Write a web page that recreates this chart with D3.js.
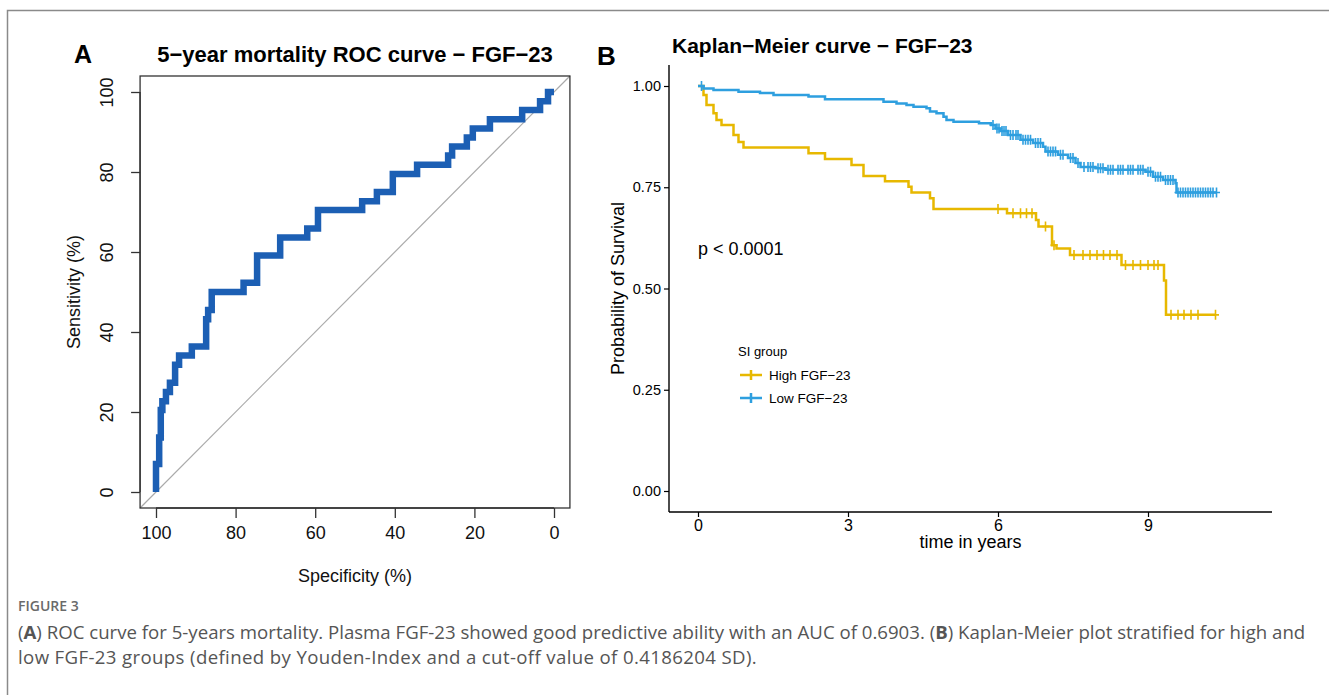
<!DOCTYPE html>
<html>
<head>
<meta charset="utf-8">
<script src="https://cdn.jsdelivr.net/npm/d3@7"></script>
<style>
  body { margin: 0; background: #fff; }
  svg { display: block; font-family: "Liberation Sans", Arial, sans-serif; }
</style>
</head>
<body>
<div id="chart"></div>
<script>
// ---- panel A: ROC curve (specificity %, sensitivity %) ----
const rocSpec = [100, 100, 99.2, 98.8, 98.4, 97.5, 96.5, 95.2, 94.2, 91, 87.4, 86.9, 86, 78, 74.6,
  68.8, 62, 59.3, 48.2, 44.5, 40.5, 34.4, 26.6, 25.6, 21.9, 20.4, 16.1, 8, 3.5, 1.5, 0];
const rocSens = [0, 7, 13.6, 20.5, 22.7, 25, 27.3, 31.8, 34.1, 36.4, 43.2, 45.5, 50, 52.3, 59.1,
  63.6, 65.9, 70.5, 72.7, 75, 79.5, 81.8, 84.1, 86.4, 88.6, 90.9, 93.2, 95.5, 97.7, 100, 100];
const rocXTicks = [100, 80, 60, 40, 20, 0];
const rocYTicks = [0, 20, 40, 60, 80, 100];

// ---- panel B: Kaplan-Meier ----
const kmHighTime = [0, 0.11, 0.17, 0.31, 0.37, 0.47, 0.71, 0.81, 0.91, 2.21, 2.54, 3.07, 3.31, 3.74,
  4.21, 4.27, 4.64, 4.71, 6.18, 6.76, 6.81, 7.08, 7.17, 7.44, 8.47, 9.32, 9.36, 10.35];
const kmHighSurv = [1, 0.978, 0.953, 0.933, 0.916, 0.904, 0.879, 0.862, 0.848, 0.834, 0.820, 0.805, 0.778, 0.765,
  0.751, 0.737, 0.723, 0.696, 0.686, 0.669, 0.653, 0.607, 0.599, 0.583, 0.558, 0.52, 0.435, 0.435];
const kmHighCensor = [6.0, 6.3, 6.45, 6.57, 6.68, 6.95, 7.12, 7.52, 7.7, 7.84, 7.98, 8.11, 8.24, 8.38,
  8.55, 8.7, 8.85, 9.0, 9.12, 9.2, 9.46, 9.6, 9.72, 9.86, 10.0, 10.35];

const kmLowTime = [0, 0.11, 0.31, 0.81, 1.24, 1.51, 2.21, 2.54, 3.71, 3.97, 4.17, 4.31, 4.57, 4.64, 4.77,
  4.91, 4.97, 5.11, 5.62, 5.86, 5.95, 6.05, 6.2, 6.45, 6.7, 6.9, 6.95, 7.2, 7.4, 7.55, 7.65, 7.95,
  8.15, 8.95, 9.1, 9.3, 9.55, 9.57, 10.37];
const kmLowSurv = [1, 0.994, 0.990, 0.986, 0.983, 0.978, 0.974, 0.967, 0.961, 0.957, 0.953, 0.949, 0.945, 0.937, 0.933,
  0.924, 0.916, 0.912, 0.908, 0.904, 0.895, 0.889, 0.879, 0.867, 0.859, 0.850, 0.838, 0.830, 0.822, 0.810, 0.800, 0.797,
  0.793, 0.788, 0.776, 0.768, 0.760, 0.737, 0.737];
const kmLowCensor = [0.07, 5.9, 5.98, 6.02, 6.08, 6.12, 6.16, 6.25, 6.3, 6.36, 6.4, 6.5, 6.55, 6.6, 6.65,
  6.75, 6.8, 6.85, 7.0, 7.05, 7.1, 7.15, 7.25, 7.3, 7.45, 7.5, 7.6, 7.72, 7.8, 7.85, 7.9, 8.0, 8.05,
  8.1, 8.2, 8.25, 8.3, 8.4, 8.45, 8.5, 8.6, 8.65, 8.7, 8.8, 8.85, 8.9, 9.0, 9.05, 9.15, 9.2, 9.25,
  9.35, 9.4, 9.45, 9.5, 9.6, 9.65, 9.7, 9.75, 9.8, 9.85, 9.9, 9.95, 10.0, 10.05, 10.1, 10.15, 10.2,
  10.25, 10.3, 10.37];
const kmXTicks = [0, 3, 6, 9];
const kmYTicks = [0, 0.25, 0.5, 0.75, 1];
const groupNames = ["High FGF\u221223", "Low FGF\u221223"];
const groupColors = ["#E7B800", "#2E9FDF"];

const FONT = "'Liberation Sans', Arial, sans-serif";

const svg = d3.select("#chart").append("svg")
  .attr("width", 1329)
  .attr("height", 695);

// card border (top + left)
svg.append("path")
  .attr("d", "M7.5,695 V10.5 H1329")
  .attr("fill", "none")
  .attr("stroke", "#8a8a8a")
  .attr("stroke-width", 1.5);

// ================= Panel A =================
const ax = d3.scaleLinear().domain([100, 0]).range([156, 554]);
const ay = d3.scaleLinear().domain([0, 100]).range([492, 92]);
const boxX0 = ax(104), boxX1 = ax(-4), boxY0 = ay(104), boxY1 = ay(-4);

const gA = svg.append("g");

gA.append("text").attr("x", 74).attr("y", 63)
  .attr("font-size", 25).attr("font-weight", "bold").text("A");
gA.append("text").attr("x", (boxX0 + boxX1) / 2).attr("y", 62)
  .attr("text-anchor", "middle").attr("font-size", 22).attr("font-weight", "bold")
  .text("5\u2212year mortality ROC curve \u2212 FGF\u221223");

// diagonal reference line
gA.append("line")
  .attr("x1", ax(104)).attr("y1", ay(-4))
  .attr("x2", ax(-4)).attr("y2", ay(104))
  .attr("stroke", "#aaaaaa").attr("stroke-width", 1.2);

// ROC staircase
const rocLine = d3.line()
  .x(d => ax(d[0]))
  .y(d => ay(d[1]))
  .curve(d3.curveStepAfter);

gA.append("path")
  .datum(d3.zip(rocSpec, rocSens))
  .attr("d", rocLine)
  .attr("fill", "none")
  .attr("stroke", "#1c5fb4")
  .attr("stroke-width", 6.5);

// box
gA.append("rect")
  .attr("x", boxX0).attr("y", boxY0)
  .attr("width", boxX1 - boxX0).attr("height", boxY1 - boxY0)
  .attr("fill", "none").attr("stroke", "#333").attr("stroke-width", 1.3);

// axes (R style)
const axB = gA.append("g").attr("transform", `translate(0,${boxY1})`)
  .call(d3.axisBottom(ax).tickValues(rocXTicks).tickSize(10).tickPadding(8));
axB.attr("font-family", FONT).attr("font-size", 18);
axB.select(".domain").attr("d", `M${ax(100)},0H${ax(0)}`).attr("stroke", "#333").attr("stroke-width", 1.3);
axB.selectAll(".tick line").attr("stroke", "#333").attr("stroke-width", 1.3);
axB.selectAll("text").attr("fill", "#111");

const axL = gA.append("g").attr("transform", `translate(${boxX0},0)`)
  .call(d3.axisLeft(ay).tickValues(rocYTicks).tickSize(9).tickPadding(6));
axL.attr("font-family", FONT).attr("font-size", 18);
axL.select(".domain").attr("d", `M0,${ay(0)}V${ay(100)}`).attr("stroke", "#333").attr("stroke-width", 1.3);
axL.selectAll(".tick line").attr("stroke", "#333").attr("stroke-width", 1.3);
axL.selectAll("text")
  .attr("fill", "#111")
  .attr("x", null).attr("dy", null)
  .attr("text-anchor", "middle")
  .attr("transform", "translate(-27,0) rotate(-90)");

gA.append("text").attr("x", (boxX0 + boxX1) / 2).attr("y", 582)
  .attr("text-anchor", "middle").attr("font-size", 18).attr("fill", "#111")
  .text("Specificity (%)");
gA.append("text")
  .attr("transform", `translate(80,${(boxY0 + boxY1) / 2}) rotate(-90)`)
  .attr("text-anchor", "middle").attr("font-size", 18).attr("fill", "#111")
  .text("Sensitivity (%)");

// ================= Panel B =================
const bx = d3.scaleLinear().domain([0, 9]).range([698, 1148]);
const by = d3.scaleLinear().domain([0, 1]).range([491, 86]);
const gB = svg.append("g");

gB.append("text").attr("x", 597).attr("y", 65)
  .attr("font-size", 26).attr("font-weight", "bold").text("B");
gB.append("text").attr("x", 672).attr("y", 53)
  .attr("font-size", 21).attr("font-weight", "bold")
  .text("Kaplan\u2212Meier curve \u2212 FGF\u221223");

const xLo = bx.invert(669), xHi = bx.invert(1272);
const yLo = by.invert(512), yHi = by.invert(65);

const kmX = gB.append("g").attr("transform", `translate(0,${by(yLo)})`)
  .call(d3.axisBottom(bx).tickValues(kmXTicks).tickSize(5).tickPadding(3));
kmX.attr("font-family", FONT).attr("font-size", 16);
kmX.select(".domain").attr("d", `M${bx(xLo)},0H${bx(xHi)}`).attr("stroke", "#000").attr("stroke-width", 1.4);
kmX.selectAll(".tick line").attr("stroke", "#000").attr("stroke-width", 1.2);
kmX.selectAll("text").attr("fill", "#000");

const kmY = gB.append("g").attr("transform", `translate(${bx(xLo)},0)`)
  .call(d3.axisLeft(by).tickValues(kmYTicks).tickFormat(d3.format(".2f")).tickSize(5).tickPadding(3));
kmY.attr("font-family", FONT).attr("font-size", 14.5);
kmY.select(".domain").attr("d", `M0,${by(yLo)}V${by(yHi)}`).attr("stroke", "#000").attr("stroke-width", 1.4);
kmY.selectAll(".tick line").attr("stroke", "#000").attr("stroke-width", 1.2);
kmY.selectAll("text").attr("fill", "#000");

gB.append("text").attr("x", (bx(xLo) + bx(xHi)) / 2).attr("y", 548)
  .attr("text-anchor", "middle").attr("font-size", 18).text("time in years");
gB.append("text")
  .attr("transform", `translate(624,${(by(yLo) + by(yHi)) / 2}) rotate(-90)`)
  .attr("text-anchor", "middle").attr("font-size", 18).text("Probability of Survival");

gB.append("text").attr("x", 698).attr("y", 255).attr("font-size", 18).text("p < 0.0001");

const kmLine = d3.line()
  .x(d => bx(d[0]))
  .y(d => by(d[1]))
  .curve(d3.curveStepAfter);

function survAt(times, surv, t) {
  const i = d3.bisectRight(times, t) - 1;
  return surv[Math.max(0, i)];
}

const groups = [
  { time: kmHighTime, surv: kmHighSurv, censor: kmHighCensor, color: groupColors[0] },
  { time: kmLowTime, surv: kmLowSurv, censor: kmLowCensor, color: groupColors[1] }
];

groups.forEach(g => {
  gB.append("path")
    .datum(d3.zip(g.time, g.surv))
    .attr("d", kmLine)
    .attr("fill", "none")
    .attr("stroke", g.color)
    .attr("stroke-width", 2.5);

  gB.append("g").selectAll("path")
    .data(g.censor)
    .join("path")
    .attr("d", t => {
      const cx = bx(t), cy = by(survAt(g.time, g.surv, t));
      return `M${cx},${cy - 5}V${cy + 5}M${cx - 3.5},${cy}H${cx + 3.5}`;
    })
    .attr("stroke", g.color)
    .attr("stroke-width", 1.6);
});

// legend
const leg = gB.append("g");
leg.append("text").attr("x", 738).attr("y", 356).attr("font-size", 13).text("SI group");
groupNames.forEach((name, i) => {
  const ly = 375 + i * 23;
  leg.append("path")
    .attr("d", `M740,${ly}H762M751,${ly - 5}V${ly + 5}`)
    .attr("stroke", groupColors[i]).attr("stroke-width", 2.5);
  leg.append("text").attr("x", 769).attr("y", ly + 5).attr("font-size", 13.5).text(name);
});

// ================= Caption =================
const cap = svg.append("g").attr("font-family", "'Open Sans', 'Noto Sans', sans-serif");
cap.append("text").attr("x", 18).attr("y", 611)
  .attr("font-size", 14).attr("font-weight", 600).attr("fill", "#6a6a6a")
  .text("FIGURE 3");

const line1 = cap.append("text").attr("x", 18).attr("y", 639).attr("font-size", 17).attr("fill", "#555");
line1.append("tspan").text("(");
line1.append("tspan").attr("font-weight", "bold").text("A");
line1.append("tspan").text(") ROC curve for 5-years mortality. Plasma FGF-23 showed good predictive ability with an AUC of 0.6903. (");
line1.append("tspan").attr("font-weight", "bold").text("B");
line1.append("tspan").text(") Kaplan-Meier plot stratified for high and");

const line2 = cap.append("text").attr("x", 18).attr("y", 664).attr("font-size", 17).attr("fill", "#555")
  .text("low FGF-23 groups (defined by Youden-Index and a cut-off value of 0.4186204 SD).");

// fit caption widths to the figure text block
const fs = 17 * 1288 / line1.node().getComputedTextLength();
line1.attr("font-size", fs);
line2.attr("font-size", fs);
const w2 = line2.node().getComputedTextLength();
const n2 = line2.text().length;
line2.attr("letter-spacing", (739 - w2) / n2);
</script>
</body>
</html>
